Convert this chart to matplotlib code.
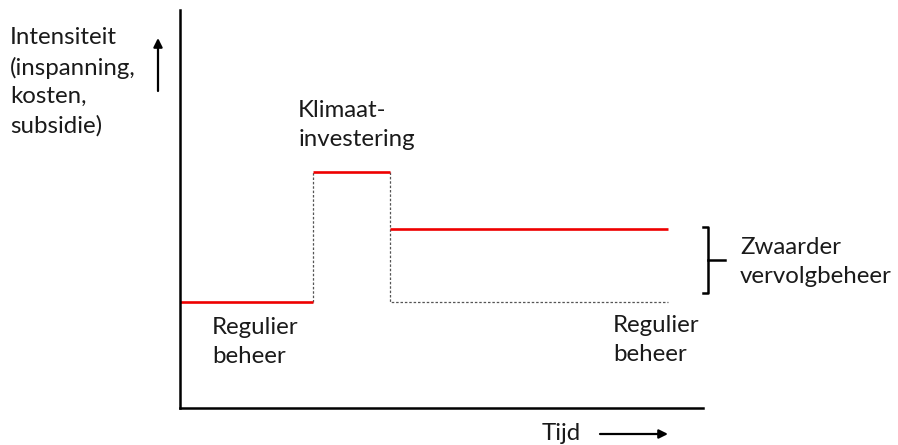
import numpy as np
import matplotlib.pyplot as plt

plt.rcParams['font.family'] = ['Lato', 'DejaVu Sans']

# time breakpoints (arbitrary units) and intensity levels
phase_start = [0.0, 2.54, 4.02]
phase_end = [2.54, 4.02, 9.33]
intensity = [2.66, 5.93, 4.50]   # regulier, klimaatinvestering, zwaarder vervolgbeheer
regular_level = 2.66

W, H = 898, 445
fig = plt.figure(figsize=(W / 100, H / 100), dpi=100)
ax = fig.add_axes([180 / W, (H - 408) / H, (703 - 180) / W, (408 - 10) / H])
ax.set_xlim(0, 10)
ax.set_ylim(0, 10)
for s in ['top', 'right']:
    ax.spines[s].set_visible(False)
for s in ['left', 'bottom']:
    ax.spines[s].set_linewidth(1.8)
ax.set_xticks([])
ax.set_yticks([])

# dashed grey guide: regular level continued after the investment
ax.plot([phase_start[1], phase_start[1]], [regular_level, intensity[1]],
        color='#555555', lw=0.9, ls=(0, (2, 1.5)))
ax.plot([phase_end[1], phase_end[1], phase_end[2]],
        [intensity[1], regular_level, regular_level],
        color='#555555', lw=0.9, ls=(0, (2, 1.5)))

# red intensity steps
for x0, x1, y in zip(phase_start, phase_end, intensity):
    ax.plot([x0, x1], [y, y], color='#ee0000', lw=1.9, solid_capstyle='butt')

fs = 17.3
lsp = 1.45
tc = '#1a1a1a'
ax.text(0.61, 1.66, 'Regulier\nbeheer', fontsize=fs, va='center', ha='left',
        linespacing=lsp, color=tc)
ax.text(8.28, 1.71, 'Regulier\nbeheer', fontsize=fs, va='center', ha='left',
        linespacing=lsp, color=tc)
ax.text(2.26, 7.11, 'Klimaat-\ninvestering', fontsize=fs, va='center', ha='left',
        linespacing=lsp, color=tc)
ax.text(10.71, 3.67, 'Zwaarder\nvervolgbeheer', fontsize=fs, va='center',
        ha='left', clip_on=False, linespacing=lsp, color=tc)

# bracket for the extra follow-up effort
bx, top, bot = 10.1, 4.55, 2.89
ax.plot([10.0, bx, bx, 10.0], [top, top, bot, bot], color='black', lw=1.8,
        clip_on=False, solid_joinstyle='round')
ax.plot([bx, 10.42], [(top + bot) / 2] * 2, color='black', lw=1.8, clip_on=False)

# axis labels with arrows
fig.text(10 / W, 1 - 82 / H, 'Intensiteit\n(inspanning,\nkosten,\nsubsidie)',
         fontsize=fs, va='center', ha='left', linespacing=lsp, color=tc)
fig.add_artist(plt.matplotlib.patches.FancyArrowPatch(
    (158 / W, 1 - 91 / H), (158 / W, 1 - 38 / H), transform=fig.transFigure,
    arrowstyle='-|>', mutation_scale=13, lw=1.6, color='black',
    shrinkA=0, shrinkB=0))
fig.text(542 / W, 1 - 433 / H, 'Tijd', fontsize=fs, va='center', ha='left',
         color=tc)
fig.add_artist(plt.matplotlib.patches.FancyArrowPatch(
    (600 / W, 1 - 434 / H), (668 / W, 1 - 434 / H), transform=fig.transFigure,
    arrowstyle='-|>', mutation_scale=13, lw=1.6, color='black',
    shrinkA=0, shrinkB=0))

fig.savefig('out.png', dpi=100)
